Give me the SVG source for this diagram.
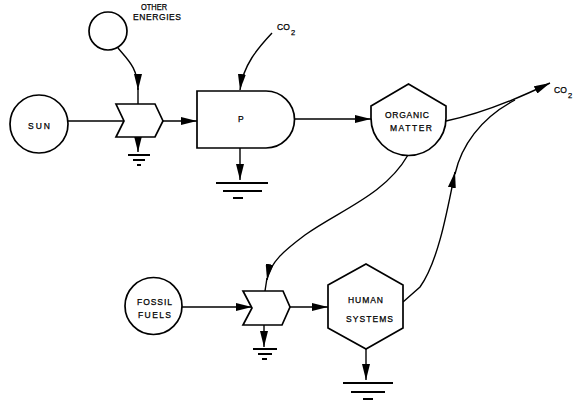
<svg xmlns="http://www.w3.org/2000/svg" width="585" height="408" viewBox="0 0 585 408">
<style>
.shape{fill:#fff;stroke:#000;stroke-width:1.7}
.c{fill:none;stroke:#000;stroke-width:1.4}
.g{fill:none;stroke:#000;stroke-width:2}
.t{font-family:"Liberation Sans",Arial,sans-serif;font-size:8.5px;fill:#000;stroke:#000;stroke-width:0.25}
.s{font-family:"Liberation Sans",Arial,sans-serif;font-size:7.5px;fill:#000;stroke:#000;stroke-width:0.25}
</style>
<defs>
<marker id="ah" viewBox="0 0 16 8" refX="16" refY="4" markerWidth="16" markerHeight="8" markerUnits="userSpaceOnUse" orient="auto">
<path d="M0,0 L16,4 L0,8 Z" fill="#000"/>
</marker>
</defs>
<rect width="585" height="408" fill="#fff"/>

<g id="connectors">
<path class="c" d="M68,121 L124,121"/>
<path class="c" d="M118,48 C128,60 138,68 138,90" marker-end="url(#ah)"/>
<path class="c" d="M138,88 L138,104"/>
<path class="c" d="M163,121 L197,121" marker-end="url(#ah)"/>
<path class="c" d="M138,137 L138,152" marker-end="url(#ah)"/>
<path class="c" d="M272,33 C258,48 243,65 240,90" marker-end="url(#ah)"/>
<path class="c" d="M240,148 L240,180" marker-end="url(#ah)"/>
<path class="c" d="M295,119 L371,119" marker-end="url(#ah)"/>
<path class="c" d="M446,121 Q490,112 550,83" marker-end="url(#ah)"/>
<path class="c" d="M403,302 L420,287 C438,262 447,212 455,172" marker-end="url(#ah)"/>
<path class="c" d="M455,174 C461,147 480,118 515,100"/>
<path class="c" d="M408,155 C385,195 340,210 305,235 C285,250 270,262 267,280" marker-end="url(#ah)"/>
<path class="c" d="M267,278 L265,291"/>
<path class="c" d="M182,307 L252,307" marker-end="url(#ah)"/>
<path class="c" d="M290,307 L328,307" marker-end="url(#ah)"/>
<path class="c" d="M264,325 L264,347" marker-end="url(#ah)"/>
<path class="c" d="M366,349 L366,380" marker-end="url(#ah)"/>
</g>

<g id="other-energies">
<circle class="shape" cx="108" cy="31" r="19"/>
<text class="t" x="141" y="10" textLength="26" lengthAdjust="spacingAndGlyphs">OTHER</text>
<text class="t" x="133" y="20" textLength="48" lengthAdjust="spacing">ENERGIES</text>
</g>

<g id="sun">
<circle class="shape" cx="39" cy="124" r="29"/>
<text class="t" x="28" y="129" textLength="22" lengthAdjust="spacing">SUN</text>
</g>

<g id="gate1">
<polygon class="shape" points="116,104 155,104 163,121 155,137 116,137 124,121"/>
</g>
<g id="ground1">
<path class="g" d="M128,155 H150 M133,160 H145 M137,165 H141"/>
</g>

<g id="producer">
<path class="shape" d="M197,91 L266,91 A28.5,28.5 0 0 1 266,148 L197,148 Z"/>
<text class="t" x="238" y="122">P</text>
</g>
<g id="ground-p">
<path class="g" d="M216,183 H268 M223,191 H262 M233,198 H243"/>
</g>

<g id="co2-in">
<text class="t" x="277" y="30">CO</text>
<text class="s" x="291" y="35">2</text>
</g>

<g id="organic-matter">
<path class="shape" d="M371,118 L371,106 L408.5,84 L446,106 L446,118 A37.5,37.5 0 0 1 371,118 Z"/>
<text class="t" x="385" y="118" textLength="44" lengthAdjust="spacing">ORGANIC</text>
<text class="t" x="390" y="131" textLength="42" lengthAdjust="spacing">MATTER</text>
</g>

<g id="co2-out">
<text class="t" x="554" y="93">CO</text>
<text class="s" x="568" y="98">2</text>
</g>

<g id="fossil-fuels">
<circle class="shape" cx="153.5" cy="306" r="28.5"/>
<text class="t" x="137" y="305" textLength="35" lengthAdjust="spacing">FOSSIL</text>
<text class="t" x="138" y="318" textLength="33" lengthAdjust="spacing">FUELS</text>
</g>

<g id="gate2">
<polygon class="shape" points="243,291 283,291 290,307 282,325 243,325 252,308"/>
</g>
<g id="ground2">
<path class="g" d="M253,349 H277 M258,354 H272 M262,359 H267"/>
</g>

<g id="human-systems">
<polygon class="shape" points="366,264 403,285 403,328 366,349 328,328 328,285"/>
<text class="t" x="348" y="303" textLength="35" lengthAdjust="spacing">HUMAN</text>
<text class="t" x="346" y="322" textLength="47" lengthAdjust="spacing">SYSTEMS</text>
</g>
<g id="ground-h">
<path class="g" d="M343,383 H393 M351,392 H385 M363,399 H373"/>
</g>
</svg>
